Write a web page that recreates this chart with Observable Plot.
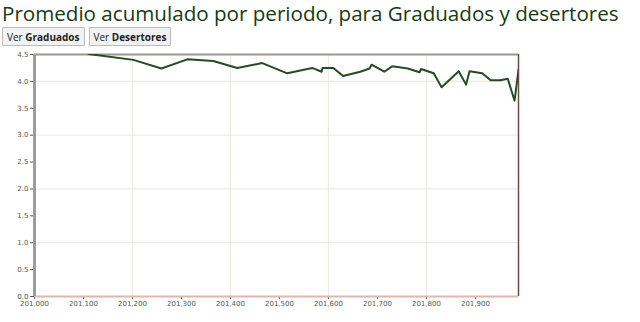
<!DOCTYPE html>
<html>
<head>
<meta charset="utf-8">
<script src="https://cdn.jsdelivr.net/npm/d3@7"></script>
<script src="https://cdn.jsdelivr.net/npm/@observablehq/plot@0.6"></script>
<style>
  html, body { margin: 0; padding: 0; background: #fff; }
  body { width: 640px; height: 322px; overflow: hidden; position: relative; font-family: "Open Sans", sans-serif; }
  h1 { position: absolute; left: 2px; top: -1px; margin: 0; font-weight: 400; font-size: 20.6px; line-height: 28px; color: #173a12; white-space: nowrap; }
  .btns { position: absolute; left: 2px; top: 27px; display: flex; gap: 4px; }
  button { font-family: "Open Sans", sans-serif; font-size: 10px; height: 19px; padding: 0 4px; margin: 0; background: #f2f2f2; border: 1px solid #bbb; border-radius: 1px; color: #222; }
  #chart { position: absolute; left: 0; top: 48px; }
</style>
</head>
<body>
<h1>Promedio acumulado por periodo, para Graduados y desertores</h1>
<div class="btns"><button>Ver <b>Graduados</b></button><button>Ver <b>Desertores</b></button></div>
<div id="chart"></div>
<script>
const periodos = [201110, 201202, 201259, 201312, 201365, 201414, 201465, 201516, 201567, 201586, 201588, 201610, 201630, 201665, 201684, 201688, 201714, 201730, 201762, 201786, 201789, 201815, 201831, 201866, 201881, 201888, 201914, 201931, 201951, 201966, 201980, 201988];
const promedios = [4.51, 4.40, 4.24, 4.41, 4.38, 4.25, 4.34, 4.15, 4.25, 4.18, 4.25, 4.25, 4.10, 4.18, 4.24, 4.31, 4.18, 4.28, 4.24, 4.17, 4.23, 4.15, 3.89, 4.19, 3.94, 4.19, 4.15, 4.02, 4.02, 4.05, 3.64, 4.22];
const xTicks = [201000, 201100, 201200, 201300, 201400, 201500, 201600, 201700, 201800, 201900];
const yTicks = [0, 0.5, 1, 1.5, 2, 2.5, 3, 3.5, 4, 4.5];
const xGrid = [201200, 201400, 201600, 201800];
const yGrid = [1, 2, 3, 4];
const xDomain = [201000, 201988];
const yDomain = [0, 4.5];

const data = periodos.map((p, i) => ({periodo: p, promedio: promedios[i]}));

const chart = Plot.plot({
  width: 640,
  height: 274,
  marginLeft: 34,
  marginRight: 122,
  marginTop: 6,
  marginBottom: 26,
  style: {fontSize: "7px", fontFamily: "DejaVu Sans, sans-serif", color: "#555", background: "#fff"},
  x: {domain: xDomain, ticks: xTicks, tickFormat: d3.format(","), tickSize: 3, tickPadding: 2, label: null},
  y: {domain: yDomain, ticks: yTicks, tickFormat: d3.format(".1f"), tickSize: 4, tickPadding: 2, label: null},
  marks: [
    Plot.ruleX(xGrid, {stroke: "#eeeae6", strokeWidth: 1.2}),
    Plot.ruleY(yGrid, {stroke: "#eeeae6", strokeWidth: 1.2}),
    Plot.ruleY([4.5], {stroke: "#9a9a8e", strokeWidth: 2}),
    Plot.ruleY([0], {stroke: "#e2b5ad", strokeWidth: 2}),
    Plot.ruleX([xDomain[1]], {stroke: "#6e4b3e", strokeWidth: 1.5}),
    Plot.ruleX([xDomain[0]], {stroke: "#9c9c9c", strokeWidth: 3}),
    Plot.line(data, {x: "periodo", y: "promedio", stroke: "#234d22", strokeWidth: 2, clip: true})
  ]
});
document.getElementById("chart").appendChild(chart);
</script>
</body>
</html>
